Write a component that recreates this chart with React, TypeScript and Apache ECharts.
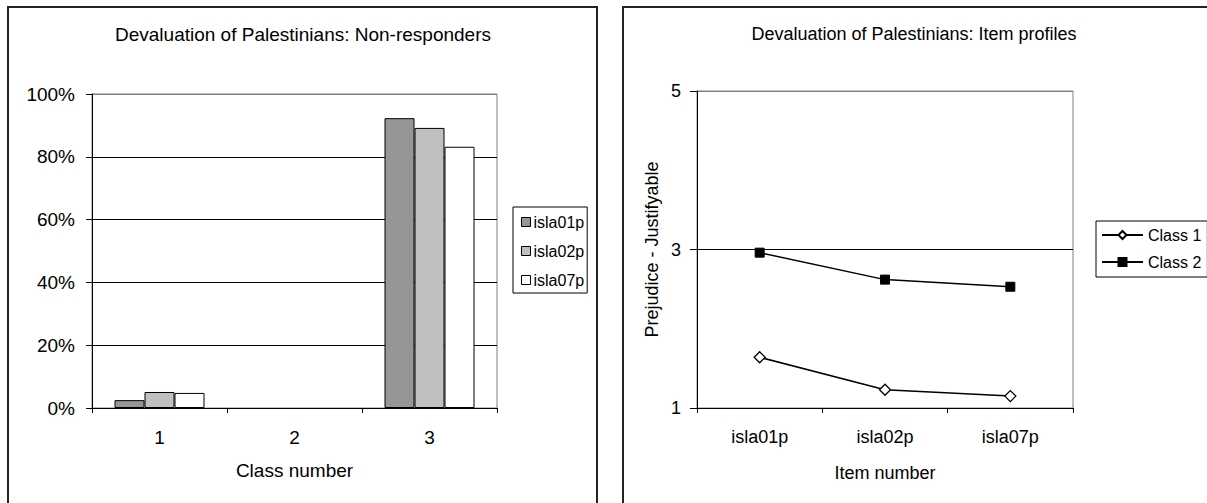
import React, { useEffect, useRef } from 'react';
import * as echarts from 'echarts';

// Left chart: non-responders (%)
const classNumbers = ['1', '2', '3'];
const isla01pPct = [2.5, null, 92.3];
const isla02pPct = [5.1, null, 89.2];
const isla07pPct = [4.8, null, 83.2];
const barNames = ['isla01p', 'isla02p', 'isla07p'];

// Right chart: item profiles
const itemNumbers = ['isla01p', 'isla02p', 'isla07p'];
const class1Profile = [1.64, 1.23, 1.15];
const class2Profile = [2.96, 2.62, 2.53];
const lineNames = ['Class 1', 'Class 2'];

const FONT = 'Liberation Sans, Arial, sans-serif';

export default function App() {
  const ref = useRef<HTMLDivElement>(null);
  useEffect(() => {
    if (!ref.current) return;
    const chart = echarts.init(ref.current, null, { renderer: 'svg' });
    const barColors = ['#969696', '#C0C0C0', '#FFFFFF'];
    const barData = [isla01pPct, isla02pPct, isla07pPct];
    chart.setOption({
      animation: false,
      backgroundColor: '#fff',
      textStyle: { fontFamily: FONT, color: '#000' },
      grid: [
        { left: 92, top: 94, width: 405, height: 314, show: true, borderColor: '#808080', borderWidth: 1, backgroundColor: '#fff' },
        { left: 697, top: 91, width: 376, height: 317, show: true, borderColor: '#808080', borderWidth: 1, backgroundColor: '#fff' },
      ],
      xAxis: [
        {
          type: 'category', gridIndex: 0, data: classNumbers, boundaryGap: true,
          axisLine: { lineStyle: { color: '#000', width: 1 } },
          axisTick: { show: true, length: 5, interval: 0, alignWithLabel: false, lineStyle: { color: '#000' } },
          axisLabel: { fontSize: 19, color: '#000', margin: 20, fontFamily: FONT },
          name: 'Class number', nameLocation: 'middle', nameGap: 53,
          nameTextStyle: { fontSize: 19, color: '#000', fontFamily: FONT },
          splitLine: { show: false },
        },
        {
          type: 'category', gridIndex: 1, data: itemNumbers, boundaryGap: true,
          axisLine: { lineStyle: { color: '#000', width: 1 } },
          axisTick: { show: true, length: 5, interval: 0, alignWithLabel: false, lineStyle: { color: '#000' } },
          axisLabel: { fontSize: 18, color: '#000', margin: 20, fontFamily: FONT },
          name: 'Item number', nameLocation: 'middle', nameGap: 56,
          nameTextStyle: { fontSize: 18, color: '#000', fontFamily: FONT },
          splitLine: { show: false },
        },
      ],
      yAxis: [
        {
          type: 'value', gridIndex: 0, min: 0, max: 100, interval: 20,
          axisLine: { show: true, lineStyle: { color: '#000', width: 1 } },
          axisTick: { show: true, length: 6, lineStyle: { color: '#000' } },
          axisLabel: { fontSize: 19, color: '#000', margin: 17, formatter: '{value}%', fontFamily: FONT },
          splitLine: { show: true, lineStyle: { color: ['#000', '#000', '#000', '#000', '#000', '#808080'], width: 1 } },
        },
        {
          type: 'value', gridIndex: 1, min: 1, max: 5, interval: 2,
          axisLine: { show: true, lineStyle: { color: '#000', width: 1 } },
          axisTick: { show: true, length: 7, lineStyle: { color: '#000' } },
          axisLabel: { fontSize: 18, color: '#000', margin: 16, fontFamily: FONT },
          splitLine: { show: true, lineStyle: { color: ['#000', '#000', '#808080'], width: 1 } },
          name: 'Prejudice - Justifyable', nameLocation: 'middle', nameGap: 36,
          nameTextStyle: { fontSize: 18, color: '#000', fontFamily: FONT },
        },
      ],
      legend: [
        {
          data: barNames, orient: 'vertical', left: 513, top: 207,
          padding: [7, 3, 5, 8], itemGap: 13, itemWidth: 9, itemHeight: 9,
          icon: 'rect', borderColor: '#000', borderWidth: 1,
          itemStyle: { borderColor: '#000', borderWidth: 1 },
          textStyle: { fontSize: 16, color: '#000', fontFamily: FONT, padding: [0, 0, 0, -2] },
        },
        {
          data: lineNames, orient: 'vertical', left: 1096, top: 221,
          padding: [6, 6, 7, 5], itemGap: 11, itemWidth: 41, itemHeight: 10,
          borderColor: '#000', borderWidth: 1,
          textStyle: { fontSize: 16, color: '#000', fontFamily: FONT },
        },
      ],
      series: [
        ...barNames.map((n, i) => ({
          type: 'bar', name: n, xAxisIndex: 0, yAxisIndex: 0, data: barData[i],
          barWidth: 30, barGap: '0%',
          itemStyle: { color: barColors[i], borderColor: '#000', borderWidth: 1 },
        })),
        {
          type: 'line', name: 'Class 1', xAxisIndex: 1, yAxisIndex: 1, data: class1Profile,
          symbol: 'diamond', symbolSize: 11,
          lineStyle: { color: '#000', width: 1.5 },
          itemStyle: { color: '#fff', borderColor: '#000', borderWidth: 1.3 },
        },
        {
          type: 'line', name: 'Class 2', xAxisIndex: 1, yAxisIndex: 1, data: class2Profile,
          symbol: 'rect', symbolSize: 9,
          lineStyle: { color: '#000', width: 1.5 },
          itemStyle: { color: '#000', borderColor: '#000', borderWidth: 1 },
        },
      ],
      graphic: [
        { type: 'rect', shape: { x: 8, y: 7, width: 589, height: 520 }, style: { fill: 'none', stroke: '#222', lineWidth: 2 }, z: 100 },
        { type: 'rect', shape: { x: 623, y: 7, width: 620, height: 520 }, style: { fill: 'none', stroke: '#222', lineWidth: 2 }, z: 100 },
        { type: 'text', x: 303, y: 34, style: { text: 'Devaluation of Palestinians: Non-responders', fontSize: 19, fontFamily: FONT, fill: '#000', textAlign: 'center', textVerticalAlign: 'middle' } },
        { type: 'text', x: 914, y: 34, style: { text: 'Devaluation of Palestinians: Item profiles', fontSize: 18, fontFamily: FONT, fill: '#000', textAlign: 'center', textVerticalAlign: 'middle' } },
      ],
    });
    return () => chart.dispose();
  }, []);
  return <div ref={ref} style={{ position: 'fixed', left: 0, top: 0, width: 1207, height: 503, background: '#fff' }} />;
}
